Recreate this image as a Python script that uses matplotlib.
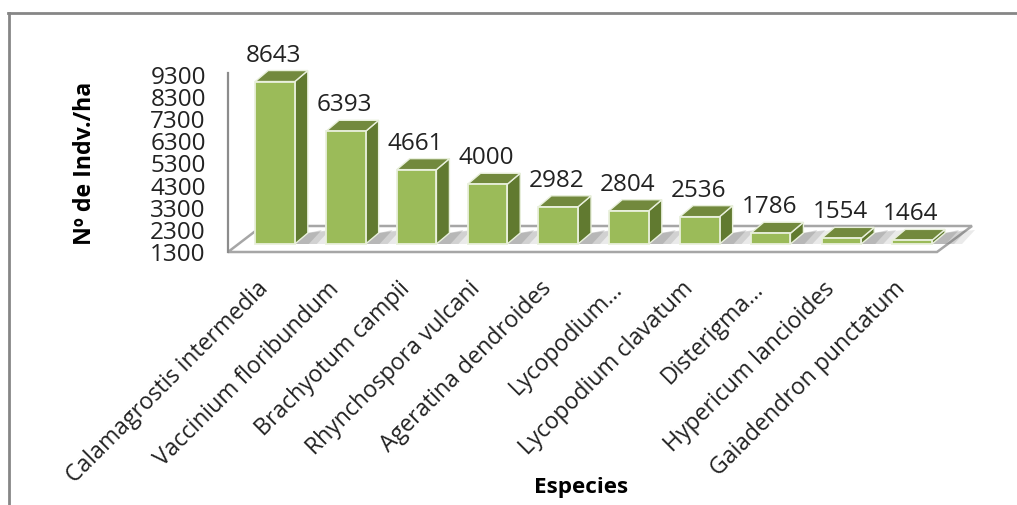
import matplotlib
matplotlib.use('Agg')
import matplotlib.pyplot as plt
from matplotlib.lines import Line2D
from matplotlib.patches import Polygon
from matplotlib.transforms import Affine2D

species = ['Calamagrostis intermedia', 'Vaccinium floribundum', 'Brachyotum campii',
           'Rhynchospora vulcani', 'Ageratina dendroides', 'Lycopodium…',
           'Lycopodium clavatum', 'Disterigma…', 'Hypericum lancioides', 'Gaiadendron punctatum']
indv_ha = [8643, 6393, 4661, 4000, 2982, 2804, 2536, 1786, 1554, 1464]
yticks = [1300, 2300, 3300, 4300, 5300, 6300, 7300, 8300, 9300]

W, H = 1017, 505
plt.rcParams['font.family'] = ['Open Sans', 'DejaVu Sans']

fig = plt.figure(figsize=(W / 100, H / 100), dpi=100)
ax = fig.add_axes([228 / W, (H - 252) / H, 709 / W, 177 / H])
xmin, xmax = -47 / 70.8, (937 - 275) / 70.8
ax.set_xlim(xmin, xmax)
ax.set_ylim(1300, 9300)
ux = (xmax - xmin) / 709  # data units per pixel
uy = 8000 / 177
base = 1300
lift = 8 * uy
half = 0.28
dep_x, dep_y = 13 * ux, 11 * uy

def poly(pts, **kw):
    ax.add_patch(Polygon(pts, closed=True, clip_on=False, **kw))

# floor
poly([(xmin, base), (xmax, base), (xmax + 35 * ux, base + 26 * uy), (xmin + 34 * ux, base + 26 * uy)],
     facecolor='white', edgecolor='#a6a6a6', linewidth=1.8, zorder=1)
ax.add_line(Line2D([xmin, xmin], [base, 9390], color='#8c8c8c', lw=1.6, clip_on=False, zorder=2))

# shadows on the floor, three layers so it fades out
for i in range(len(species)):
    x1 = i + half
    y0 = base + lift
    for k, a in zip([30, 22, 14], [0.14, 0.2, 0.26]):
        poly([(x1, y0), (x1 + k * ux, y0), (x1 + (k + 13) * ux, y0 + 14 * uy), (x1 + dep_x, y0 + dep_y)],
             facecolor='#6f6f6f', edgecolor='none', alpha=a, zorder=2)

# bars
edge = '#e9f0dc'
for i, v in enumerate(indv_ha):
    top = v + lift
    ax.bar(i, v - base, bottom=base + lift, width=2 * half, color='#9bbb59', edgecolor=edge,
           linewidth=1.3, zorder=4, clip_on=False)
    poly([(i + half, base + lift), (i + half + dep_x, base + lift + dep_y),
          (i + half + dep_x, top + dep_y), (i + half, top)],
         facecolor='#617a30', edgecolor=edge, linewidth=1.0, zorder=3)
    poly([(i - half, top), (i + half, top), (i + half + dep_x, top + dep_y), (i - half + dep_x, top + dep_y)],
         facecolor='#72893d', edgecolor=edge, linewidth=1.0, zorder=3)
    ax.annotate(str(v), (i, top), xytext=(-1, 10), textcoords='offset points', ha='center', va='bottom',
                fontsize=17.5, color='#222222', zorder=6, annotation_clip=False)

for s in ax.spines.values():
    s.set_visible(False)
ax.patch.set_visible(False)
ax.set_yticks(yticks)
ax.set_yticklabels([str(t) for t in yticks], fontsize=17.5, color='#222222')
ax.tick_params(axis='y', length=0, pad=16)
ax.set_xticks(range(len(species)))
ax.set_xticklabels(species, rotation=45, ha='right', rotation_mode='anchor', fontsize=16.6, color='#222222')
ax.tick_params(axis='x', length=0, pad=18)
for lab in ax.get_xticklabels():
    lab.set_transform(lab.get_transform() + Affine2D().translate(-19, 0))

fig.text(85 / W, 1 - 163 / H, 'Nº de Indv./ha', rotation=90, ha='center', va='center',
         fontsize=16.7, fontweight='bold', color='black')
fig.text(581 / W, 1 - 487 / H, 'Especies', ha='center', va='center',
         fontsize=16.2, fontweight='bold', color='black')

# outer frame, only left and top show
fig.add_artist(Line2D([8.5 / W, 8.5 / W], [0, 1 - 13 / H], color='#868686', lw=2.0))
fig.add_artist(Line2D([8 / W, 1], [1 - 13 / H, 1 - 13 / H], color='#868686', lw=2.0))

fig.savefig('out.png', dpi=100)
